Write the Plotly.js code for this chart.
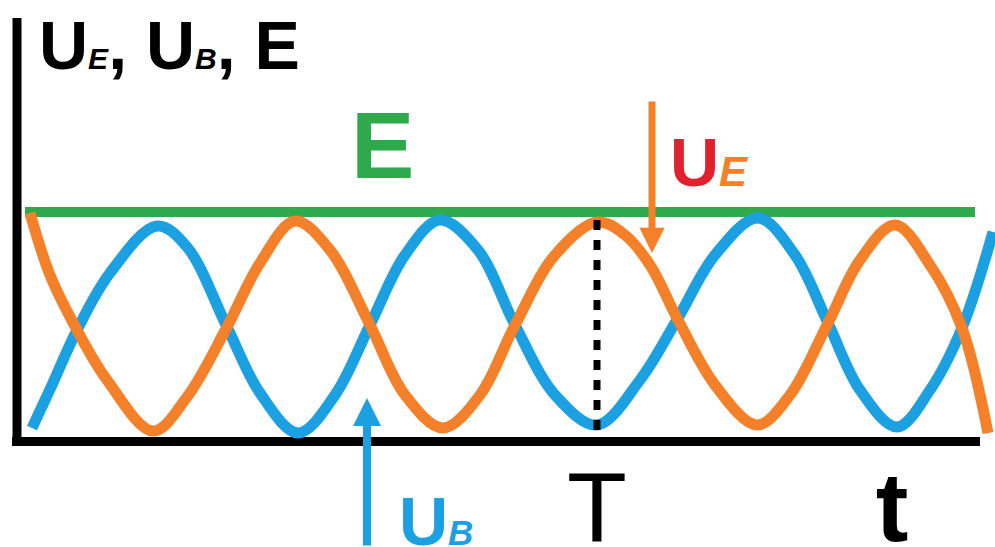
<!DOCTYPE html>
<html><head><meta charset="utf-8">
<script src="https://cdn.plot.ly/plotly-3.0.1.min.js"></script>
<style>html,body{margin:0;padding:0;background:#fff}#chart{width:995px;height:547px}</style>
</head><body><div id="chart"></div>
<script>
// Time in arbitrary units (one period T = 567), energy in arbitrary units (E = 228)
const tOrange = [0, 20, 47, 77, 123, 157, 197, 230, 265, 300, 340, 375, 413, 450, 485, 525, 567, 595, 620, 648, 685, 727, 760, 798, 830, 865, 900, 932, 958];
const energyE = [227, 165, 110, 60, 9, 43, 113, 177, 219, 190, 115, 45, 12, 45, 115, 185, 218, 205, 175, 120, 55, 15, 45, 117, 180, 215, 175, 112, 7];
const tBlue = [2, 22, 47, 80, 127, 157, 197, 230, 268, 305, 340, 375, 410, 448, 485, 525, 567, 610, 648, 685, 728, 765, 798, 830, 867, 900, 932, 963];
const energyB = [12, 55, 110, 167, 214, 193, 113, 47, 7, 45, 115, 185, 220, 190, 115, 45, 15, 60, 122, 185, 222, 185, 117, 50, 13, 50, 112, 208];
const tTotal = [-5, 945];
const energyTotal = [228, 228];
const tPeriod = [567, 567];
const periodMarkLevels = [220, 10];
const tickVals = [567, 862];
const tickText = ['T', '<b>t</b>'];

const BLUE = '#1ba0e2', ORANGE = '#f4802a', GREEN = '#2eaa4c', RED = '#e3202e';
const SANS = 'Liberation Sans, Arial, sans-serif';

// helpers: pixel position -> paper coordinates (plot area spans 0..995 x 0..447)
const PW = 995, PH = 447;
const px = x => x / PW;
const py = y => (PH - y) / PH;

const traces = [
  {x: tTotal, y: energyTotal, mode: 'lines', line: {color: GREEN, width: 10}, name: 'E'},
  {x: tBlue, y: energyB, mode: 'lines', line: {color: BLUE, width: 11, shape: 'spline', smoothing: 1}, name: 'U_B'},
  {x: tOrange, y: energyE, mode: 'lines', line: {color: ORANGE, width: 11, shape: 'spline', smoothing: 1}, name: 'U_E'},
  {x: tPeriod, y: periodMarkLevels, mode: 'lines', line: {color: '#000', width: 7, dash: '10px,10px'}, name: 'T'}
];

const layout = {
  width: 995, height: 547,
  margin: {l: 0, r: 0, t: 0, b: 100, pad: 0},
  paper_bgcolor: '#fff', plot_bgcolor: '#fff',
  showlegend: false,
  xaxis: {
    range: [-30, 965], showgrid: false, zeroline: false, showline: false,
    ticks: '', tickvals: tickVals, ticktext: tickText,
    tickfont: {family: SANS, size: 98, color: '#000'},
    ticklabelstandoff: -5, fixedrange: true
  },
  yaxis: {
    range: [-7, 440], showgrid: false, zeroline: false, showline: false,
    showticklabels: false, ticks: '', fixedrange: true
  },
  shapes: [
    {type: 'line', xref: 'x', yref: 'y', x0: -13, x1: -13, y0: -6, y1: 422, line: {color: '#000', width: 9}, layer: 'below'},
    {type: 'line', xref: 'x', yref: 'y', x0: -18, x1: 950, y0: -1.5, y1: -1.5, line: {color: '#000', width: 9}, layer: 'below'}
  ],
  annotations: [
    {xref: 'paper', yref: 'paper', x: px(37), y: py(5), xanchor: 'left', yanchor: 'top', showarrow: false,
     text: "<b>U<span style='font-size:30px'><i>E</i></span>, U<span style='font-size:30px'><i>B</i></span>, E</b>",
     font: {family: SANS, size: 68, color: '#000'}},
    {xref: 'paper', yref: 'paper', x: px(382), y: py(90), xanchor: 'center', yanchor: 'top', showarrow: false,
     text: '<b>E</b>', font: {family: SANS, size: 95, color: GREEN}},
    {xref: 'paper', yref: 'paper', x: px(668), y: py(122), xanchor: 'left', yanchor: 'top', showarrow: false,
     text: "<b><span style='color:" + RED + "'>U</span><span style='font-size:42px;color:" + ORANGE + "'><i>E</i></span></b>",
     font: {family: SANS, size: 68, color: RED}},
    {xref: 'paper', yref: 'paper', x: px(397), y: py(481), xanchor: 'left', yanchor: 'top', showarrow: false,
     text: "<b>U<span style='font-size:35px'><i>B</i></span></b>",
     font: {family: SANS, size: 68, color: BLUE}},
    // arrows
    {xref: 'x', yref: 'y', x: 622, y: 187, ax: 0, ay: -153, showarrow: true, text: '',
     arrowhead: 2, arrowsize: 0.72, arrowwidth: 7, arrowcolor: ORANGE},
    {xref: 'x', yref: 'y', x: 337, y: 42, ax: 0, ay: 150, showarrow: true, text: '',
     arrowhead: 2, arrowsize: 0.7, arrowwidth: 8, arrowcolor: BLUE}
  ]
};

Plotly.newPlot('chart', traces, layout, {staticPlot: true, displayModeBar: false});
</script>
</body></html>
